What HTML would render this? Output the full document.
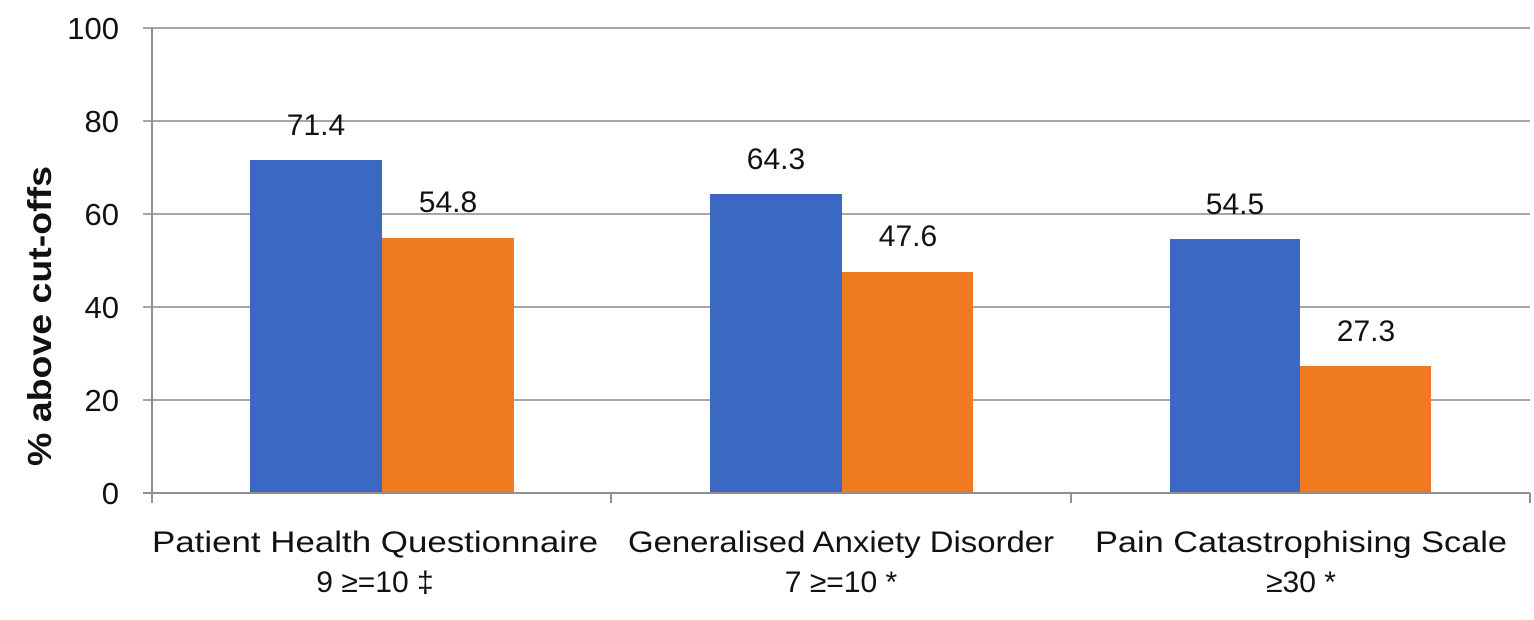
<!DOCTYPE html>
<html><head><meta charset="utf-8"><style>html,body{margin:0;padding:0;background:#fff}</style></head>
<body>
<svg width="1534" height="615" xmlns="http://www.w3.org/2000/svg" font-family="Liberation Sans, DejaVu Sans, sans-serif">
<rect width="1534" height="615" fill="#fff"/>
<g stroke="#a6a6a6" stroke-width="2">
<line x1="143" y1="28" x2="1530" y2="28"/>
<line x1="143" y1="121" x2="1530" y2="121"/>
<line x1="143" y1="214" x2="1530" y2="214"/>
<line x1="143" y1="307" x2="1530" y2="307"/>
<line x1="143" y1="400" x2="1530" y2="400"/>
</g>
<g fill="#3a68c3">
<rect x="250" y="160" width="132" height="333"/>
<rect x="710" y="194" width="132" height="299"/>
<rect x="1170" y="239" width="130" height="254"/>
</g>
<g fill="#ef7a22">
<rect x="382" y="238" width="132" height="255"/>
<rect x="842" y="272" width="131" height="221"/>
<rect x="1300" y="366" width="131" height="127"/>
</g>
<g stroke="#909090" stroke-width="2">
<line x1="152" y1="28" x2="152" y2="503"/>
<line x1="143" y1="493" x2="1530" y2="493"/>
<line x1="611" y1="493" x2="611" y2="503"/>
<line x1="1071" y1="493" x2="1071" y2="503"/>
<line x1="1530" y1="493" x2="1530" y2="503"/>
</g>
<g font-size="31" fill="#111" text-anchor="end">
<text x="119" y="39">100</text>
<text x="119" y="132">80</text>
<text x="119" y="225">60</text>
<text x="119" y="318">40</text>
<text x="119" y="411">20</text>
<text x="119" y="504">0</text>
</g>
<g font-size="30" fill="#111" text-anchor="middle">
<text x="316" y="135">71.4</text>
<text x="448" y="212">54.8</text>
<text x="776" y="169">64.3</text>
<text x="908" y="246">47.6</text>
<text x="1235" y="214">54.5</text>
<text x="1366" y="341">27.3</text>
</g>
<g font-size="30" fill="#111" text-anchor="middle">
<text x="375" y="552" textLength="446" lengthAdjust="spacingAndGlyphs">Patient Health Questionnaire</text>
<text x="375" y="592">9 ≥=10 ‡</text>
<text x="841" y="552" textLength="426" lengthAdjust="spacingAndGlyphs">Generalised Anxiety Disorder</text>
<text x="841" y="592">7 ≥=10 *</text>
<text x="1301" y="552" textLength="412" lengthAdjust="spacingAndGlyphs">Pain Catastrophising Scale</text>
<text x="1301" y="592">≥30 *</text>
</g>
<text transform="translate(51,316) rotate(-90)" font-size="33" font-weight="bold" fill="#111" text-anchor="middle" textLength="300" lengthAdjust="spacingAndGlyphs">% above cut-offs</text>
</svg>
</body></html>
